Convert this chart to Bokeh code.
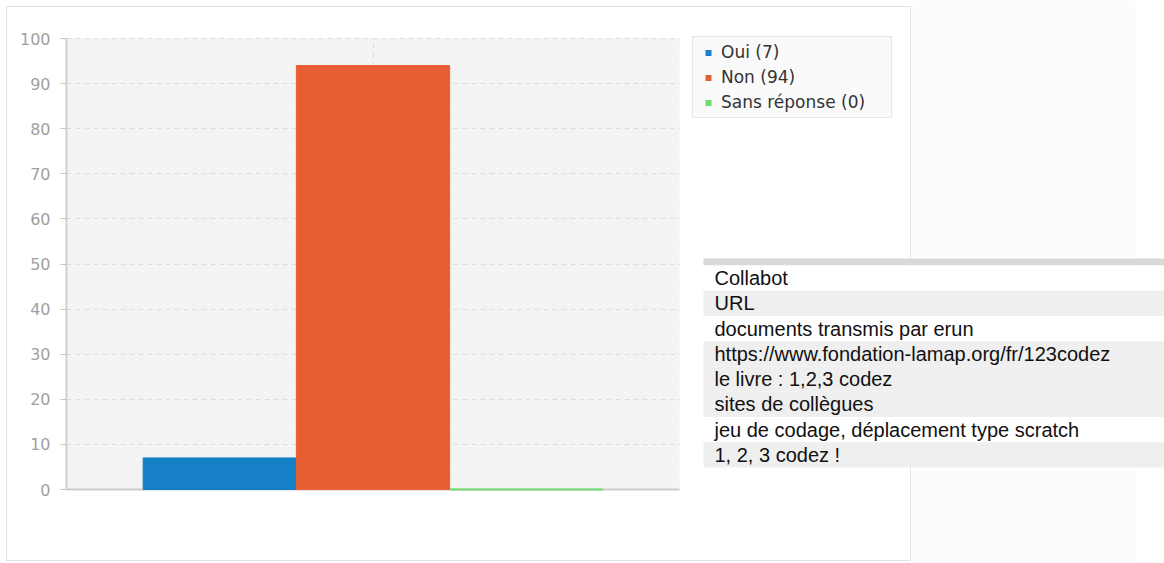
from bokeh.plotting import figure
from bokeh.models import Range1d, Legend, LegendItem, ColumnDataSource
from bokeh.core.properties import value
from bokeh.embed import file_html
from bokeh.resources import INLINE

# ---------------- data ----------------
categories = ["Oui", "Non", "Sans réponse"]
counts = [7, 94, 0]
colors = ["#1580c6", "#e65f33", "#6fdc6f"]
y_ticks = [0, 10, 20, 30, 40, 50, 60, 70, 80, 90, 100]
links = [
    "Collabot",
    "URL",
    "documents transmis par erun",
    "https://www.fondation-lamap.org/fr/123codez",
    "le livre : 1,2,3 codez",
    "sites de collègues",
    "jeu de codage, déplacement type scratch",
    "1, 2, 3 codez !",
]
link_shaded = [False, True, False, True, True, True, False, True]

# ---------------- layout constants (page pixels) ----------------
W, H = 1164, 563
FL = 66                  # left edge of chart area / frame
CT, CR, CB = 38, 679, 489  # chart area top, right, bottom
px_per_x = CR - FL
px_per_y = (CB - CT) / 100.0

x_end = (W - FL) / px_per_x
y_start = -(H - CB) / px_per_y
y_end = 100 + CT / px_per_y

card_css = {
    "background-color": "white",
    "background-image": ("linear-gradient(#e2e2e2,#e2e2e2),"
                         "linear-gradient(#e2e2e2,#e2e2e2),"
                         "linear-gradient(#e2e2e2,#e2e2e2)"),
    "background-size": "1px 555px, 62px 1px, 62px 1px",
    "background-position": "6px 6px, 6px 6px, 6px 560px",
    "background-repeat": "no-repeat",
}

p = figure(width=W, height=H,
           x_range=Range1d(0, x_end), y_range=Range1d(y_start, y_end),
           output_backend="svg", toolbar_location=None,
           min_border_left=FL, min_border_top=0,
           min_border_right=0, min_border_bottom=0,
           styles=card_css)
p.title.visible = False
p.outline_line_color = None
p.border_fill_color = None
p.background_fill_color = None

# page-pixel coordinate system for the decorations and the table
p.extra_x_ranges = {"px": Range1d(FL, W)}
p.extra_y_ranges = {"px": Range1d(H, 0)}

# card (part inside the frame) and page background to its right
p.quad(left=[FL - 2], right=[910], top=[6], bottom=[560],
       x_range_name="px", y_range_name="px",
       fill_color="white", line_color="#e2e2e2", line_width=1, level="image")
p.quad(left=[912], right=[1135], top=[0], bottom=[H],
       x_range_name="px", y_range_name="px",
       fill_color="#fcfcfc", line_color=None, level="image")

# chart area background (hatched light gray)
p.quad(left=[0], right=[1], bottom=[0], top=[100],
       fill_color="#f8f8f8", line_color=None,
       hatch_pattern="/", hatch_color="#ececec", hatch_scale=5,
       hatch_weight=1, level="image")

# axes
p.xaxis.visible = False
p.yaxis.ticker = y_ticks
p.yaxis.bounds = (0, 100)
p.yaxis.axis_line_color = "#cfcfcf"
p.yaxis.axis_line_width = 2
p.yaxis.major_tick_line_color = "#c4c4c4"
p.yaxis.major_tick_out = 6
p.yaxis.major_tick_in = 0
p.yaxis.minor_tick_line_color = None
p.yaxis.major_label_text_color = "#9f9f9f"
p.yaxis.major_label_text_font = "DejaVu Sans"
p.yaxis.major_label_text_font_size = "16px"
p.yaxis.major_label_standoff = 10

p.ygrid.ticker = y_ticks
p.ygrid.cross_bounds = (0, 1)
p.xgrid.ticker = [0.5]
p.xgrid.cross_bounds = (0, 100)
for g in (p.xgrid, p.ygrid):
    g.grid_line_color = "#dddddd"
    g.grid_line_dash = "5 4"

# x axis base line
p.segment(x0=[0], x1=[1], y0=[0], y1=[0], line_color="#cccccc", line_width=2)

# bars
n = len(categories)
bar_w = 0.25
bar_x = [0.5 + (i - (n - 1) / 2) * bar_w for i in range(n)]
items = []
for i, (c, v, col) in enumerate(zip(categories, counts, colors)):
    src = ColumnDataSource(dict(x=[bar_x[i]], v=[v]))
    p.vbar(x="x", top="v", width=bar_w, source=src, fill_color=col,
           line_color=col, line_width=2 if v == 0 else 1)
    m = p.scatter(x="x", y="v", source=src, size=0, marker="square",
                  fill_color=col, line_color=None)
    items.append(LegendItem(label=f"{c} ({v})", renderers=[m]))

legend = Legend(items=items, location=(692 - FL, H - 118),
                glyph_width=20, glyph_height=15, label_standoff=3,
                label_height=20, label_width=165, spacing=5, padding=5, margin=0,
                background_fill_color="#fafafa", background_fill_alpha=1,
                border_line_color="#e6e6e6", border_line_alpha=1,
                label_text_font="DejaVu Sans", label_text_font_size="17px",
                label_text_color="#333333")
p.add_layout(legend)

# table of free answers
TX0, TX1 = 703, W
HEAD_T, HEAD_B = 258, 265
ROW_H = 25.25
row_top = [HEAD_B + i * ROW_H for i in range(len(links))]
row_bot = [t + ROW_H for t in row_top]
row_mid = [t + ROW_H / 2 for t in row_top]
p.quad(left=[TX0], right=[TX1], top=[HEAD_T], bottom=[HEAD_B],
       x_range_name="px", y_range_name="px", fill_color="#d9d9d9", line_color=None)
p.quad(left=[TX0] * len(links), right=[TX1] * len(links), top=row_top, bottom=row_bot,
       x_range_name="px", y_range_name="px",
       fill_color=["#efefef" if s else "white" for s in link_shaded], line_color=None)
p.text(x=[714] * len(links), y=row_mid, text=links,
       x_range_name="px", y_range_name="px",
       text_font=value("Liberation Sans"), text_font_size=value("20px"),
       text_color="#111111", text_baseline="middle", text_align="left")

open("out.html", "w").write(file_html(p, INLINE))
